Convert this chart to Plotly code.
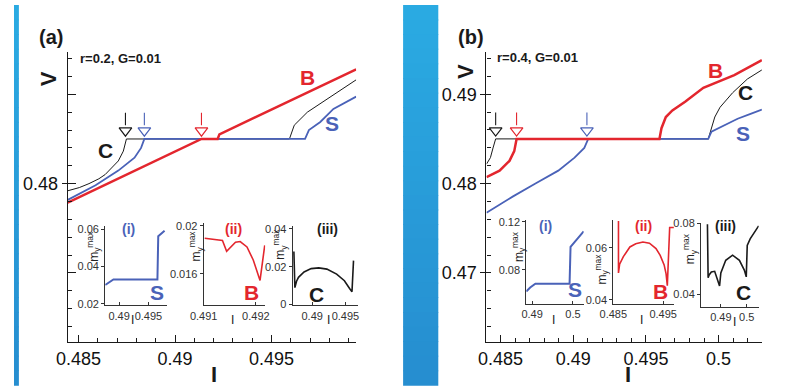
import plotly.graph_objects as go

W, H = 805, 390
FONT = "Liberation Sans, Arial, sans-serif"
RED, BLUE, BLACK = "#e3262e", "#4a62b8", "#1a1a1a"

# ---------------- data: panel (a) r=0.2 ----------------
a_C_I = [0.48444, 0.48504, 0.48554, 0.48605, 0.48638, 0.48672, 0.48706, 0.48732, 0.48748,
         0.49593, 0.49618, 0.49686, 0.49787, 0.49939]
a_C_V = [0.47960, 0.47978, 0.48000, 0.48027, 0.48051, 0.48091, 0.48127, 0.48182, 0.4825,
         0.4825, 0.48327, 0.48400, 0.48472, 0.48581]
a_S_I = [0.48444, 0.48588, 0.48706, 0.48790, 0.48824, 0.48841, 0.49674, 0.49694, 0.49753, 0.49821, 0.49939]
a_S_V = [0.47909, 0.47991, 0.48073, 0.48145, 0.48200, 0.4825, 0.4825, 0.48300, 0.48345, 0.48418, 0.48487]
a_B_I = [0.48444, 0.49137, 0.49221, 0.49230, 0.49939]
a_B_V = [0.47894, 0.4825, 0.4825, 0.48276, 0.48640]
a_plateau = 0.4825
a_arrow_I = [0.48743, 0.48841, 0.49137]   # C, S, B onsets

# insets (a)
ai_I = [0.48763, 0.48903, 0.49653, 0.49667, 0.49775]
ai_m = [0.03009, 0.03301, 0.03301, 0.05617, 0.05909]
aii_I = [0.49102, 0.49136, 0.49144, 0.49161, 0.49170, 0.49183, 0.49195, 0.49208, 0.49217]
aii_m = [0.01898, 0.01878, 0.01789, 0.01865, 0.01870, 0.01825, 0.01716, 0.01546, 0.01838]
aiii_I = [0.48725, 0.48740, 0.48765, 0.48794, 0.48878, 0.48985, 0.49099, 0.49221, 0.49368,
          0.49485, 0.49563, 0.49599, 0.49622]
aiii_m = [0.02799, 0.00896, 0.01237, 0.01440, 0.01720, 0.01898, 0.01939, 0.01873, 0.01608,
          0.01262, 0.00855, 0.00677, 0.02321]

# ---------------- data: panel (b) r=0.4 ----------------
b_C_I = [0.48403, 0.48430, 0.48448, 0.48466, 0.49929, 0.49951, 0.49974, 0.50010, 0.50097, 0.50198, 0.50298]
b_C_V = [0.48218, 0.48290, 0.48399, 0.485, 0.485, 0.48636, 0.48745, 0.48854, 0.49017, 0.49170, 0.49272]
b_S_I = [0.48403, 0.48583, 0.48740, 0.48897, 0.49009, 0.49076, 0.49103, 0.49929, 0.49951,
         0.50041, 0.50131, 0.50220, 0.50298]
b_S_V = [0.47673, 0.47854, 0.48000, 0.48145, 0.48290, 0.48399, 0.485, 0.485, 0.48581,
         0.48654, 0.48726, 0.48781, 0.48829]
b_B_I = [0.48403, 0.48493, 0.48561, 0.48594, 0.48610, 0.49593, 0.49607, 0.49637, 0.49682,
         0.49772, 0.49895, 0.50108, 0.50298]
b_B_V = [0.48072, 0.48145, 0.48254, 0.48363, 0.485, 0.485, 0.48620, 0.48745, 0.48818,
         0.48919, 0.49072, 0.49214, 0.49381]
b_plateau = 0.485
b_arrow_I = [0.48466, 0.48610, 0.49094]   # C, B, S onsets

# insets (b)
bi_I = [0.48856, 0.48952, 0.49079, 0.49918, 0.49942, 0.50264]
bi_m = [0.06180, 0.06506, 0.06833, 0.06833, 0.09910, 0.11216]
bii_I = [0.48604, 0.48604, 0.48627, 0.48702, 0.48833, 0.48951, 0.49094, 0.49225, 0.49357,
         0.49441, 0.49520, 0.49559, 0.49584, 0.49631, 0.49716]
bii_m = [0.07034, 0.05037, 0.05375, 0.05663, 0.06037, 0.06161, 0.06225, 0.06180, 0.05974,
         0.05712, 0.05348, 0.05000, 0.04551, 0.06787, 0.06787]
biii_I = [0.48483, 0.48509, 0.48547, 0.48634, 0.48762, 0.48849, 0.48951, 0.49000, 0.49189,
          0.49453, 0.49717, 0.49906, 0.49981, 0.50019, 0.50132, 0.50460]
biii_m = [0.07945, 0.04919, 0.05080, 0.05249, 0.05287, 0.04919, 0.04462, 0.05194, 0.05909,
          0.06201, 0.05909, 0.05359, 0.04974, 0.06751, 0.07120, 0.07852]

# ---------------- helpers ----------------
def xd(a, b):
    return [a / W, b / W]

def yd(top, bot):
    return [1 - bot / H, 1 - top / H]

fig = go.Figure()

def line(x, y, ax, color, width):
    fig.add_trace(go.Scatter(x=x, y=y, mode="lines", xaxis=ax[0], yaxis=ax[1],
                             line=dict(color=color, width=width), hoverinfo="skip",
                             showlegend=False))

def dummy(ax):
    fig.add_trace(go.Scatter(x=[None], y=[None], xaxis=ax[0], yaxis=ax[1],
                             showlegend=False, hoverinfo="skip"))

# main axes
MAIN_DOM_Y = yd(48, 346)
a_xr, a_yr = [0.48444, 0.49939], [0.47113, 0.48738]
b_xr, b_yr = [0.48403, 0.50298], [0.46226, 0.49475]

main_common = dict(showline=True, linecolor=BLACK, linewidth=1.3, showgrid=False,
                   zeroline=False, tickcolor=BLACK, tickwidth=1.2,
                   tickfont=dict(family=FONT, size=18, color="#111"))

layout = dict(
    xaxis=dict(domain=xd(55, 350), range=a_xr, anchor="y",
               tickvals=[0.485, 0.49, 0.495], ticktext=["0.485", "0.49", "0.495"],
               ticks="inside", ticklen=7,
               minor=dict(tickmode="linear", tick0=0.485, dtick=0.001, ticks="inside",
                          ticklen=3.5, tickcolor=BLACK), **main_common),
    yaxis=dict(domain=MAIN_DOM_Y, range=a_yr, anchor="x",
               tickvals=[0.48], ticktext=["0.48"], ticks="outside", ticklen=5,
               minor=dict(tickmode="linear", tick0=0.47, dtick=0.001, ticks="inside",
                          ticklen=4, tickcolor=BLACK), **main_common),
    yaxis9=dict(domain=MAIN_DOM_Y, range=a_yr, overlaying="y", anchor="x", showline=False,
                showgrid=False, zeroline=False, tickvals=[0.475, 0.48, 0.485], ticks="inside",
                ticklen=8, tickcolor=BLACK, tickwidth=1.2, showticklabels=False),
    xaxis5=dict(domain=xd(483.3, 765), range=b_xr, anchor="y5",
                tickvals=[0.485, 0.49, 0.495, 0.5], ticktext=["0.485", "0.49", "0.495", "0.5"],
                ticks="inside", ticklen=7,
                minor=dict(tickmode="linear", tick0=0.485, dtick=0.001, ticks="inside",
                           ticklen=3.5, tickcolor=BLACK), **main_common),
    yaxis5=dict(domain=MAIN_DOM_Y, range=b_yr, anchor="x5",
                tickvals=[0.47, 0.48, 0.49], ticktext=["0.47", "0.48", "0.49"],
                ticks="outside", ticklen=5,
                minor=dict(tickmode="linear", tick0=0.46, dtick=0.002, ticks="inside",
                           ticklen=4, tickcolor=BLACK), **main_common),
    yaxis10=dict(domain=MAIN_DOM_Y, range=b_yr, overlaying="y5", anchor="x5", showline=False,
                 showgrid=False, zeroline=False, tickvals=[0.47, 0.48, 0.49], ticks="inside",
                 ticklen=5, tickcolor=BLACK, tickwidth=1.2, showticklabels=False),
)

inset_common = dict(showline=True, linecolor="#333", linewidth=1, showgrid=False, zeroline=False,
                    tickcolor="#333", tickfont=dict(family=FONT, size=11, color="#333"))

insets = [
    # (n, xdom px, ydom px(top,bot), xrange, yrange, xticks, xtext, yticks, ytext)
    (2, (93.3, 156), (226.7, 308.3), [0.48763, 0.49808], [0.01914, 0.06169],
     [0.49, 0.495], ["0.49", "0.495"], [0.02, 0.04, 0.06], ["0.02", "0.04", "0.06"]),
    (3, (194, 257), (223.3, 308.3), [0.49100, 0.49218], [0.01338, 0.02028],
     [0.491, 0.492], ["0.491", "0.492"], [0.016, 0.02], ["0.016", "0.02"]),
    (4, (285, 351.7), (226.7, 308.3), [0.48706, 0.49687], [-0.0004, 0.04153],
     [0.49, 0.495], ["0.49", "0.495"], [0.0, 0.02, 0.04], ["0", "0.02", "0.04"]),
    (6, (524, 582.7), (220.7, 307), [0.48856, 0.50264], [0.05118, 0.12163],
     [0.49, 0.5], ["0.49", "0.5"], [0.08, 0.12], ["0.08", "0.12"]),
    (7, (613, 675), (220.7, 307), [0.48500, 0.49716], [0.03839, 0.07071],
     [0.485, 0.495], ["0.485", "0.495"], [0.04, 0.06], ["0.04", "0.06"]),
    (8, (702.7, 761.7), (223.3, 310), [0.48234, 0.5046], [0.03268, 0.0804],
     [0.49, 0.5], ["0.49", "0.5"], [0.04, 0.08], ["0.04", "0.08"]),
]
for n, xdp, ydp, xr, yr, xt, xtt, yt, ytt in insets:
    layout[f"xaxis{n}"] = dict(domain=xd(*xdp), range=xr, anchor=f"y{n}", ticks="inside",
                               ticklen=3, tickvals=xt, ticktext=xtt, **inset_common)
    layout[f"yaxis{n}"] = dict(domain=yd(*ydp), range=yr, anchor=f"x{n}", ticks="outside",
                               ticklen=3, tickvals=yt, ticktext=ytt, **inset_common)

# ---------------- traces ----------------
dummy(("x", "y9"))
dummy(("x5", "y10"))

line(a_C_I, a_C_V, ("x", "y"), BLACK, 1)
line(a_S_I, a_S_V, ("x", "y"), BLUE, 1.8)
line(a_B_I, a_B_V, ("x", "y"), RED, 2.5)
line(b_C_I, b_C_V, ("x5", "y5"), BLACK, 1)
line(b_S_I, b_S_V, ("x5", "y5"), BLUE, 1.8)
line(b_B_I, b_B_V, ("x5", "y5"), RED, 2.5)

line(ai_I, ai_m, ("x2", "y2"), BLUE, 2)
line(aii_I, aii_m, ("x3", "y3"), RED, 1.6)
line(aiii_I, aiii_m, ("x4", "y4"), BLACK, 1.6)
line(bi_I, bi_m, ("x6", "y6"), BLUE, 2)
line(bii_I, bii_m, ("x7", "y7"), RED, 1.6)
line(biii_I, biii_m, ("x8", "y8"), BLACK, 1.6)

# arrows (shaft + open triangle head) above the plateau onsets
def arrows(Is, colors, plateau, yr, ax):
    dv = (yr[1] - yr[0]) / (346 - 48)   # data units per pixel
    for I, c in zip(Is, colors):
        fig.add_trace(go.Scatter(x=[I, I], y=[plateau + 27 * dv, plateau + 14 * dv], mode="lines",
                                 xaxis=ax[0], yaxis=ax[1], line=dict(color=c, width=1.1),
                                 showlegend=False, hoverinfo="skip"))
        fig.add_trace(go.Scatter(x=[I], y=[plateau + 8.5 * dv], mode="markers",
                                 xaxis=ax[0], yaxis=ax[1],
                                 marker=dict(symbol="triangle-down-open", size=11,
                                             color=c, line=dict(width=1.2, color=c)),
                                 showlegend=False, hoverinfo="skip"))

arrows(a_arrow_I, [BLACK, BLUE, RED], a_plateau, a_yr, ("x", "y"))
arrows(b_arrow_I, [BLACK, RED, BLUE], b_plateau, b_yr, ("x5", "y5"))

# ---------------- text ----------------
ann = []
def txt(s, px, py, size, color=BLACK, bold=False, angle=0, xanchor="center"):
    ann.append(dict(text=s, x=px / W, y=1 - py / H, xref="paper", yref="paper",
                    showarrow=False, xanchor=xanchor, yanchor="middle", textangle=angle,
                    font=dict(family=FONT, size=size, color=color,
                              weight="bold" if bold else "normal")))

MY = "m<sub>y</sub><sup>max</sup>"
txt("(a)", 38, 33, 20, bold=True)
txt("(b)", 467, 33, 20, bold=True)
txt("r=0.2, G=0.01", 65, 55, 13, bold=True, xanchor="left")
txt("r=0.4, G=0.01", 492, 54, 13, bold=True, xanchor="left")
txt("V", 35, 76, 22, bold=True, angle=-90)
txt("V", 462, 68, 22, bold=True, angle=-90)
txt("I", 205, 379, 22, bold=True)
txt("I", 628, 379, 22, bold=True)

txt("B", 300, 74, 21, RED, True)
txt("S", 325, 122, 21, BLUE, True)
txt("C", 94, 149, 21, BLACK, True)
txt("B", 718, 67, 21, RED, True)
txt("C", 748, 90, 21, BLACK, True)
txt("S", 746, 132, 21, BLUE, True)

txt("(i)", 117, 230, 14, BLUE, True)
txt("S", 146, 295, 21, BLUE, True)
txt("(ii)", 225, 230, 14, RED, True)
txt("B", 243, 295, 21, RED, True)
txt("(iii)", 321, 230, 14, BLACK, True)
txt("C", 309, 297, 21, BLACK, True)
txt("(i)", 544, 227, 14, BLUE, True)
txt("S", 574, 292, 21, BLUE, True)
txt("(ii)", 644, 227, 14, RED, True)
txt("B", 661, 294, 21, RED, True)
txt("(iii)", 728, 227, 14, BLACK, True)
txt("C", 746, 295, 21, BLACK, True)

for px, py in [(81, 248), (186, 247), (272, 245), (516, 248), (601, 271), (691, 250)]:
    txt(MY, px, py, 12, "#222", angle=-90)
for px, py in [(121, 323), (223, 323), (322, 323), (552, 323), (642, 323), (737, 325)]:
    txt("I", px, py, 12, "#222")

# ---------------- background strips ----------------
shapes = []
nb = 26
c0, c1 = (42, 170, 226), (38, 142, 208)
for k in range(nb):
    t = k / (nb - 1)
    col = "rgb(%d,%d,%d)" % tuple(round(c0[j] + (c1[j] - c0[j]) * t) for j in range(3))
    y0, y1 = 1 - (k + 1) / nb, 1 - k / nb
    for xa, xb in [(398, 434), (0, 5)]:
        shapes.append(dict(type="rect", xref="paper", yref="paper", x0=xa / W, x1=xb / W,
                           y0=y0 - 0.002, y1=y1, fillcolor=col, line=dict(width=0), layer="below"))

fig.update_layout(width=W, height=H, autosize=False, margin=dict(l=0, r=0, t=0, b=0),
                  paper_bgcolor="white", plot_bgcolor="rgba(0,0,0,0)",
                  annotations=ann, shapes=shapes, showlegend=False, **layout)

fig.write_html("out.html", config={"displayModeBar": False},
               post_script="document.body.style.margin='0';")
